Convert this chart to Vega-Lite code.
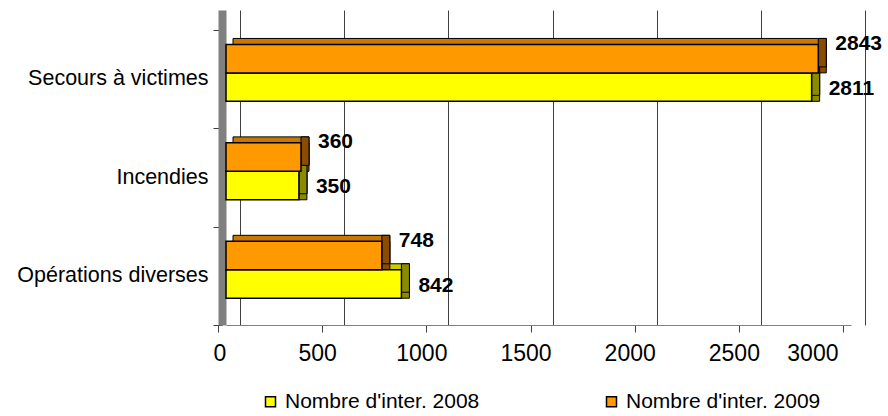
{
  "$schema": "https://vega.github.io/schema/vega-lite/v6.json",
  "autosize": {"type": "none"},
  "padding": {"left": 226, "top": 10, "right": 37, "bottom": 91},
  "width": 625,
  "height": 315,
  "config": {"view": {"stroke": null}, "font": "Liberation Sans"},
  "data": {"values": [
    {"cat": "Secours à victimes", "s": "Nombre d'inter. 2008", "yr": 2008, "v": 2811},
    {"cat": "Secours à victimes", "s": "Nombre d'inter. 2009", "yr": 2009, "v": 2843},
    {"cat": "Incendies", "s": "Nombre d'inter. 2008", "yr": 2008, "v": 350},
    {"cat": "Incendies", "s": "Nombre d'inter. 2009", "yr": 2009, "v": 360},
    {"cat": "Opérations diverses", "s": "Nombre d'inter. 2008", "yr": 2008, "v": 842},
    {"cat": "Opérations diverses", "s": "Nombre d'inter. 2009", "yr": 2009, "v": 748}
  ]},
  "encoding": {
    "y": {"field": "cat", "type": "nominal",
      "scale": {"domain": ["Secours à victimes", "Incendies", "Opérations diverses"], "paddingInner": 0, "paddingOuter": 0.1, "align": 1},
      "axis": {"title": null, "labelFontSize": 21.5, "labelColor": "#000", "labelFont": "Liberation Sans", "labelLimit": 400, "domainColor": "#808080", "domainWidth": 8, "offset": 4, "tickBand": "extent", "tickSize": 9, "tickColor": "#404040", "labelPadding": 5, "grid": false}}
  },
  "layer": [
    {
      "mark": {"type": "bar", "xOffset": 8, "x2Offset": 7, "stroke": "#000", "strokeWidth": 1},
      "encoding": {
        "yOffset": {"field": "s", "type": "nominal",
          "scale": {"domain": ["Nombre d'inter. 2009", "Nombre d'inter. 2008"], "paddingInner": 0, "paddingOuter": 0.73, "align": 0.211}},
        "x": {"field": "v", "type": "quantitative", "scale": {"domain": [0, 3000], "nice": false},
          "axis": {"orient": "bottom", "values": [0, 500, 1000, 1500, 2000, 2500, 3000], "grid": true, "gridColor": "#404040", "gridWidth": 1, "tickOffset": 14, "labels": false, "ticks": false, "domain": false, "title": null}},
        "x2": {"datum": 0},
        "color": {"condition": {"test": "datum.yr == 2009", "value": "#C87800"}, "value": "#CCCC00"}
      }
    },
    {
      "mark": {"type": "bar", "x2Offset": 8, "stroke": "#000", "strokeWidth": 1},
      "encoding": {
        "yOffset": {"field": "s", "type": "nominal",
          "scale": {"domain": ["Nombre d'inter. 2009", "Nombre d'inter. 2008"], "paddingInner": 0, "paddingOuter": 0.73, "align": 0.355}},
        "x": {"field": "v", "type": "quantitative", "axis": null},
        "x2": {"field": "v"},
        "color": {"condition": {"test": "datum.yr == 2009", "value": "#8A4D00"}, "value": "#8B8B00"}
      }
    },
    {
      "mark": {"type": "bar", "x2Offset": 8, "stroke": "#000", "strokeWidth": 1},
      "encoding": {
        "yOffset": {"field": "s", "type": "nominal",
          "scale": {"domain": ["Nombre d'inter. 2009", "Nombre d'inter. 2008"], "paddingInner": 0, "paddingOuter": 0.73, "align": 0.211}},
        "x": {"field": "v", "type": "quantitative", "axis": null},
        "x2": {"field": "v"},
        "color": {"condition": {"test": "datum.yr == 2009", "value": "#8A4D00"}, "value": "#8B8B00"}
      }
    },
    {
      "mark": {"type": "bar", "stroke": "#000", "strokeWidth": 1.5},
      "encoding": {
        "yOffset": {"field": "s", "type": "nominal",
          "scale": {"domain": ["Nombre d'inter. 2009", "Nombre d'inter. 2008"], "paddingInner": 0, "paddingOuter": 0.73, "align": 0.355}},
        "x": {"field": "v", "type": "quantitative", "stack": null,
          "axis": {"orient": "bottom", "values": [0, 500, 1000, 1500, 2000, 2500, 3000], "format": "d", "grid": false, "tickOffset": -8, "labelOffset": -5, "tickSize": 7, "tickColor": "#404040", "domainColor": "#808080", "labelFontSize": 23, "labelColor": "#000", "labelPadding": 10, "title": null}},
        "color": {"field": "s", "type": "nominal",
          "scale": {"domain": ["Nombre d'inter. 2008", "Nombre d'inter. 2009"], "range": ["#FFFF00", "#FF9900"]},
          "legend": {"title": null, "orient": "none", "legendX": 34, "legendY": 381, "direction": "horizontal", "symbolType": "square", "symbolSize": 100, "symbolStrokeColor": "#000", "symbolStrokeWidth": 1.5, "labelFontSize": 21, "labelColor": "#000", "labelFont": "Liberation Sans", "labelLimit": 400, "columnPadding": 121, "labelOffset": 4}}
      }
    },
    {
      "transform": [{"filter": "datum.yr == 2009"}],
      "mark": {"type": "text", "align": "left", "baseline": "middle", "dx": 17, "dy": -15, "fontSize": 21, "fontWeight": "bold", "color": "#000"},
      "encoding": {
        "yOffset": {"field": "s", "type": "nominal",
          "scale": {"domain": ["Nombre d'inter. 2009", "Nombre d'inter. 2008"], "paddingInner": 0, "paddingOuter": 0.73, "align": 0.5}},
        "x": {"field": "v", "type": "quantitative", "axis": null},
        "text": {"field": "v", "type": "quantitative"}
      }
    },
    {
      "transform": [{"filter": "datum.yr == 2008"}],
      "mark": {"type": "text", "align": "left", "baseline": "middle", "dx": 17, "dy": -10, "fontSize": 21, "fontWeight": "bold", "color": "#000"},
      "encoding": {
        "yOffset": {"field": "s", "type": "nominal",
          "scale": {"domain": ["Nombre d'inter. 2009", "Nombre d'inter. 2008"], "paddingInner": 0, "paddingOuter": 0.73, "align": 0.5}},
        "x": {"field": "v", "type": "quantitative", "axis": null},
        "text": {"field": "v", "type": "quantitative"}
      }
    }
  ],
  "resolve": {"axis": {"x": "independent"}, "scale": {"yOffset": "independent"}}
}
